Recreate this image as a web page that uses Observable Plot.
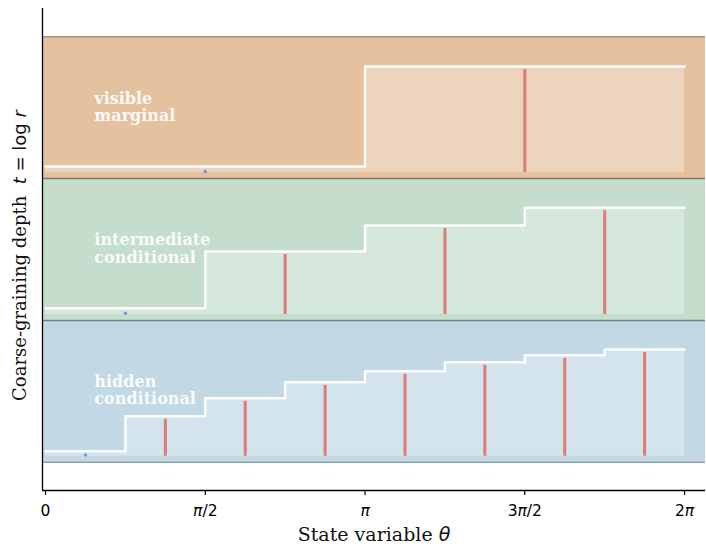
<!DOCTYPE html>
<html><head><meta charset="utf-8">
<script src="https://cdn.jsdelivr.net/npm/d3@7"></script>
<script src="https://cdn.jsdelivr.net/npm/@observablehq/plot@0.6"></script>
<style>body{margin:0;background:#fff} svg{display:block}</style>
</head><body><div id="chart"></div>
<script>
// ---- data ----
const levels = [0, 1, 2];
const bandNames = ["hidden\nconditional", "intermediate\nconditional", "visible\nmarginal"];
const hiddenSteps = [0.077, 0.324, 0.451, 0.563, 0.641, 0.704, 0.754, 0.795];
const intermediateSteps = [0.085, 0.486, 0.669, 0.795];
const visibleSteps = [0.085, 0.79];
const stepsByLevel = [hiddenSteps, intermediateSteps, visibleSteps];
const baseOffset = 0.042;
const tickValues = [0, Math.PI / 2, Math.PI, 3 * Math.PI / 2, 2 * Math.PI];
const tickLabels = ["0", "π/2", "π", "3π/2", "2π"];
const xLabel = "State variable θ";
const yLabel = "Coarse-graining depth  t = log r";
const labelTheta = 0.48;

// ---- style ----
const xDomain = [-0.03, 2 * Math.PI + 0.206];
const yDomain = [-0.2, 3.2];
const bandColors = ["#c2d8e4", "#c4ddcc", "#e5c29f"];
const edgeColors = {0: "#8a9daa", 1: "#6e8679", 2: "#7d7664", 3: "#a8907a"};
const stemColor = "#dc7670";
const dotColor = "#7890dc";

// ---- derived tables ----
const TWO_PI = 2 * Math.PI;
const stepPts = [], stems = [], dots = [];
levels.forEach((L, li) => {
  const s = stepsByLevel[li];
  const w = TWO_PI / s.length;
  s.forEach((v, i) => {
    stepPts.push({level: L, x: i * w, y: L + v, base: L + baseOffset});
    if (i === 0) dots.push({x: (i + 0.5) * w, y: L + baseOffset + 0.008});
    else stems.push({x: (i + 0.5) * w, top: L + v, base: L + baseOffset});
  });
  stepPts.push({level: L, x: TWO_PI, y: L + s[s.length - 1], base: L + baseOffset});
});

const marks = [];
levels.forEach((L, li) => {
  marks.push(Plot.rectY([L], {y1: d => d, y2: d => d + 1, fill: bandColors[li]}));
});
levels.forEach((L) => {
  const pts = stepPts.filter(d => d.level === L);
  marks.push(Plot.areaY(pts, {x: "x", y1: "base", y2: "y", curve: "step-after", fill: "white", fillOpacity: 0.3}));
  marks.push(Plot.lineY(pts, {x: "x", y: "y", curve: "step-after", stroke: "white", strokeWidth: 2.5, strokeOpacity: 0.95}));
});
marks.push(Plot.ruleX(stems, {x: "x", y1: "top", y2: "base", stroke: stemColor, strokeWidth: 3, insetTop: 3, strokeOpacity: 0.95}));
marks.push(Plot.dot(dots, {x: "x", y: "y", r: 1.7, fill: dotColor, stroke: null}));
[0, 1, 2, 3].forEach(k => marks.push(Plot.ruleY([k], {stroke: edgeColors[k], strokeWidth: 1.5})));
marks.push(Plot.text(levels, {x: () => labelTheta, y: d => d + 0.5, text: (d, i) => bandNames[i],
  textAnchor: "start", lineAnchor: "middle", fill: "white", fillOpacity: 0.92, fontWeight: "bold",
  fontFamily: "DejaVu Serif", fontSize: 16, lineHeight: 1.08, dy: -1}));
marks.push(Plot.ruleX([xDomain[0]], {stroke: "black", strokeWidth: 1.3}));
marks.push(Plot.ruleY([yDomain[0]], {stroke: "black", strokeWidth: 1.3}));
marks.push(Plot.axisX(tickValues, {tickFormat: d => tickLabels[tickValues.indexOf(d)], tickSize: 5, tickPadding: 9,
  fontSize: 15.5, fontFamily: "DejaVu Sans", label: null, stroke: "black", strokeWidth: 1.2}));
marks.push(Plot.text([xLabel], {frameAnchor: "bottom", dy: 50, fontSize: 19, fontFamily: "DejaVu Serif", fill: "#111"}));
marks.push(Plot.text([yLabel], {frameAnchor: "left", textAnchor: "middle", rotate: -90, dx: -22, dy: 6, fontSize: 18, fontFamily: "DejaVu Serif", fill: "#111"}));

const chart = Plot.plot({
  width: 706, height: 546,
  marginLeft: 42, marginRight: 1, marginTop: 8, marginBottom: 56,
  x: {domain: xDomain, axis: null},
  y: {domain: yDomain, axis: null},
  style: {background: "white", color: "black"},
  marks
});
document.getElementById("chart").append(chart);

// mathtext-like styling of labels
const svg = d3.select(chart);
svg.selectAll("text").each(function () {
  const el = d3.select(this);
  const t = this.textContent;
  if (t === xLabel) {
    el.text("");
    el.append("tspan").text("State variable ");
    el.append("tspan").attr("font-family", "DejaVu Sans").attr("font-style", "italic").text("θ");
  } else if (t === yLabel) {
    el.text("");
    el.append("tspan").text("Coarse-graining depth\u00a0\u00a0");
    el.append("tspan").attr("font-family", "DejaVu Sans").attr("font-style", "italic").text("t");
    el.append("tspan").attr("font-family", "DejaVu Sans").text("\u00a0=\u00a0log\u00a0");
    el.append("tspan").attr("font-family", "DejaVu Sans").attr("font-style", "italic").text("r");
  } else if (tickLabels.includes(t) && t.includes("π")) {
    el.text("");
    t.split(/(π)/).filter(p => p).forEach(p => {
      const ts = el.append("tspan").text(p);
      if (p === "π") ts.attr("font-style", "italic");
    });
  }
});
</script>
</body></html>
